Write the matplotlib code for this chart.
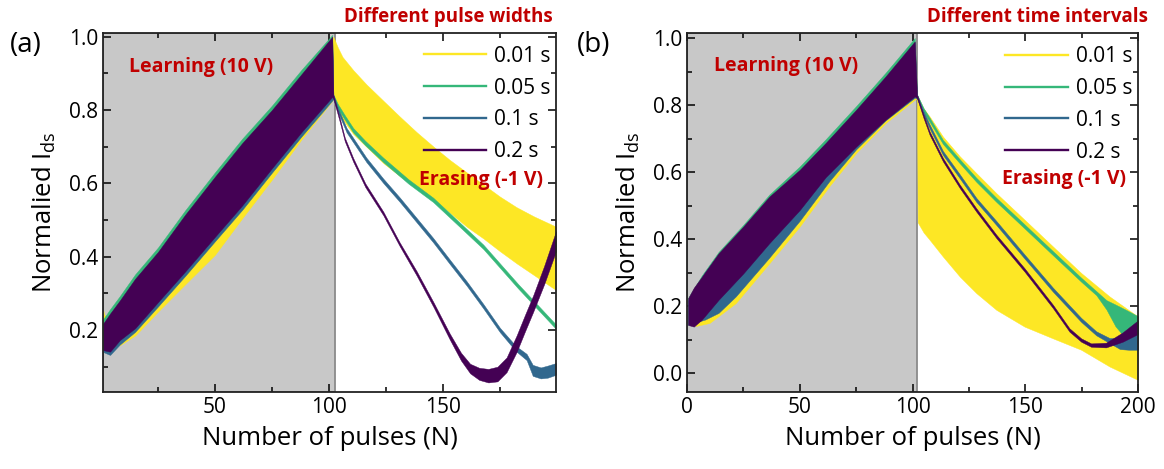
import matplotlib
matplotlib.use("Agg")
import matplotlib.pyplot as plt
from matplotlib.lines import Line2D
from matplotlib.ticker import MultipleLocator

plt.rcParams['font.family'] = ['Open Sans', 'DejaVu Sans']
plt.rcParams['mathtext.fontset'] = 'custom'
plt.rcParams['mathtext.rm'] = 'Open Sans'

# series names and colours (viridis-like)
LABELS = ['0.01 s', '0.05 s', '0.1 s', '0.2 s']
COLORS = ['#fde725', '#35b779', '#31688e', '#440154']
RED = '#c00000'

# ---- panel (a): different pulse widths, upper / lower envelope of the pulse trace
A_X_001 = [1, 1.5, 4, 8.2, 15, 25, 37, 50, 62, 75, 88, 101.5,
           102, 104, 106, 110.7, 116.5, 124, 131.2, 138.5, 146, 153.1, 160.5, 167.8, 175.1, 182.4, 190, 199.7]
A_HI_001 = [0.255, 0.24, 0.24, 0.275, 0.335, 0.405, 0.51, 0.61, 0.70, 0.79, 0.89, 0.99,
            1.0, 0.97, 0.945, 0.909, 0.87, 0.825, 0.782, 0.74, 0.70, 0.664, 0.63, 0.597, 0.564, 0.535, 0.51, 0.482]
A_LO_001 = [0.20, 0.19, 0.175, 0.158, 0.185, 0.25, 0.325, 0.405, 0.505, 0.61, 0.72, 0.825,
            0.836, 0.80, 0.775, 0.735, 0.70, 0.655, 0.62, 0.591, 0.555, 0.52, 0.482, 0.45, 0.415, 0.382, 0.35, 0.309]

A_X_005 = [1, 4, 8.2, 15, 25, 37, 50, 62, 75, 88, 101.5,
           102, 104, 107, 110.7, 116, 123.9, 135, 145.8, 157, 167.8, 183, 199.7]
A_HI_005 = [0.23, 0.257, 0.292, 0.352, 0.425, 0.527, 0.63, 0.722, 0.812, 0.91, 1.005,
            0.842, 0.816, 0.786, 0.751, 0.716, 0.670, 0.611, 0.561, 0.496, 0.433, 0.326, 0.215]
A_LO_005 = [0.15, 0.145, 0.172, 0.21, 0.276, 0.36, 0.454, 0.54, 0.641, 0.74, 0.836,
            0.830, 0.804, 0.774, 0.739, 0.704, 0.658, 0.599, 0.549, 0.484, 0.421, 0.314, 0.203]

A_X_01 = [1, 4, 8.2, 15, 25, 37, 50, 62, 75, 88, 101.5,
          102, 104, 107.8, 116.5, 123.9, 131.2, 138.5, 145.8, 153.1, 160.5, 167.8, 175.1, 182, 186.8, 189.5, 193, 196, 199.7]
A_HI_01 = [0.215, 0.242, 0.277, 0.337, 0.41, 0.512, 0.615, 0.707, 0.797, 0.895, 0.997,
           0.842, 0.806, 0.751, 0.670, 0.613, 0.561, 0.506, 0.451, 0.392, 0.333, 0.271, 0.206, 0.157, 0.135, 0.105, 0.098, 0.103, 0.11]
A_LO_01 = [0.14, 0.132, 0.16, 0.195, 0.264, 0.348, 0.442, 0.528, 0.629, 0.728, 0.826,
           0.830, 0.794, 0.739, 0.658, 0.601, 0.549, 0.494, 0.439, 0.380, 0.321, 0.259, 0.194, 0.143, 0.118, 0.075, 0.068, 0.07, 0.078]

A_X_02 = [1, 4, 8.2, 15, 25, 37, 50, 62, 75, 88, 101.5,
          102, 104.8, 107, 110.7, 116, 123.9, 131, 138.5, 146, 153.1, 158, 162, 166, 170, 174, 178, 182.4, 186, 189.7, 194.5, 199.7]
A_HI_02 = [0.218, 0.245, 0.28, 0.34, 0.413, 0.515, 0.618, 0.71, 0.80, 0.898, 1.0,
           0.841, 0.778, 0.725, 0.669, 0.600, 0.523, 0.440, 0.361, 0.275, 0.190, 0.138, 0.108, 0.097, 0.094, 0.10, 0.125, 0.185, 0.24, 0.295, 0.375, 0.47]
A_LO_02 = [0.145, 0.141, 0.172, 0.205, 0.276, 0.36, 0.454, 0.54, 0.641, 0.74, 0.836,
           0.831, 0.768, 0.715, 0.659, 0.590, 0.513, 0.430, 0.349, 0.262, 0.174, 0.117, 0.082, 0.064, 0.057, 0.06, 0.085, 0.14, 0.195, 0.25, 0.325, 0.415]

# ---- panel (b): different time intervals
B_X_001 = [0.5, 4, 10, 21.6, 36.5, 50, 63, 75, 88, 101,
           102, 102.3, 104.9, 107.6, 113.5, 121, 128.3, 137.2, 149.7, 162.3, 174.8, 187.4, 200]
B_HI_001 = [0.2, 0.25, 0.31, 0.405, 0.52, 0.60, 0.69, 0.78, 0.875, 0.98,
            0.83, 0.826, 0.79, 0.766, 0.706, 0.647, 0.597, 0.537, 0.458, 0.378, 0.299, 0.229, 0.169]
B_LO_001 = [0.15, 0.141, 0.15, 0.209, 0.328, 0.438, 0.557, 0.657, 0.746, 0.816,
            0.82, 0.45, 0.42, 0.398, 0.348, 0.288, 0.239, 0.189, 0.139, 0.104, 0.07, 0.02, -0.02]

B_X_005 = [0.5, 6.6, 14, 25, 36.5, 50, 61.5, 75, 88, 101,
           102, 104.9, 107.6, 113.5, 121, 128.3, 137.2, 149.7, 162.3, 174.8, 181.5, 186, 190, 195, 200]
B_HI_005 = [0.225, 0.292, 0.362, 0.443, 0.533, 0.617, 0.698, 0.797, 0.896, 1.0,
            0.832, 0.791, 0.762, 0.696, 0.638, 0.583, 0.523, 0.444, 0.364, 0.285, 0.245, 0.218, 0.205, 0.188, 0.17]
B_LO_005 = [0.144, 0.16, 0.219, 0.298, 0.388, 0.487, 0.585, 0.676, 0.756, 0.826,
            0.820, 0.779, 0.750, 0.684, 0.626, 0.571, 0.511, 0.432, 0.352, 0.273, 0.233, 0.19, 0.14, 0.10, 0.07]

B_X_01 = [0.5, 8, 14, 21.6, 36.5, 50, 63, 75, 88, 101,
          102, 104.9, 107.6, 113.5, 121, 128.3, 137.2, 149.7, 162.3, 174.8, 181.5, 187.4, 192, 196, 200]
B_HI_01 = [0.217, 0.302, 0.355, 0.412, 0.524, 0.604, 0.697, 0.783, 0.882, 0.987,
           0.832, 0.781, 0.742, 0.663, 0.593, 0.523, 0.454, 0.354, 0.255, 0.165, 0.125, 0.105, 0.105, 0.115, 0.12]
B_LO_01 = [0.145, 0.16, 0.18, 0.229, 0.345, 0.455, 0.572, 0.668, 0.754, 0.822,
           0.820, 0.769, 0.730, 0.651, 0.581, 0.511, 0.442, 0.342, 0.243, 0.153, 0.113, 0.09, 0.072, 0.07, 0.07]

B_X_02 = [0.5, 3, 6.6, 14, 25, 36.5, 50, 61.5, 75, 88, 101,
          102, 104.9, 107.6, 113.5, 121, 128.3, 137.2, 149.7, 162.3, 169.6, 174.8, 179.2, 185.8, 193.2, 200]
B_HI_02 = [0.224, 0.255, 0.288, 0.358, 0.438, 0.527, 0.607, 0.687, 0.786, 0.885, 0.99,
           0.831, 0.771, 0.721, 0.642, 0.562, 0.492, 0.413, 0.313, 0.204, 0.134, 0.104, 0.089, 0.091, 0.122, 0.158]
B_LO_02 = [0.144, 0.139, 0.16, 0.219, 0.298, 0.388, 0.487, 0.585, 0.676, 0.756, 0.826,
           0.821, 0.761, 0.711, 0.632, 0.552, 0.482, 0.403, 0.303, 0.194, 0.124, 0.094, 0.079, 0.077, 0.094, 0.117]


def draw_panel(ax, bands, xlim, ylim, learn_end, title, title_x, erase_xy, learn_xy):
    # grey "learning" region
    ax.axvspan(xlim[0], learn_end, facecolor='#c8c8c8', edgecolor='#8a8a8a', lw=1.3, zorder=0)
    for (x, hi, lo), c in zip(bands, COLORS):
        ax.fill_between(x, lo, hi, color=c, lw=0.3, edgecolor=c, zorder=2)
    ax.set_xlim(*xlim)
    ax.set_ylim(*ylim)
    ax.xaxis.set_major_locator(MultipleLocator(50))
    ax.xaxis.set_minor_locator(MultipleLocator(25))
    ax.yaxis.set_major_locator(MultipleLocator(0.2))
    ax.yaxis.set_minor_locator(MultipleLocator(0.1))
    ax.tick_params(which='both', direction='in', top=True, right=True, labelsize=15, width=1.1)
    ax.tick_params(which='major', length=6)
    ax.tick_params(which='minor', length=3.5)
    for s in ax.spines.values():
        s.set_linewidth(1.3)
        s.set_color('#222222')
    ax.set_xlabel('Number of pulses (N)', fontsize=18.5, labelpad=6)
    ax.set_ylabel('Normalied I$_{\\mathrm{ds}}$', fontsize=18.5, labelpad=8)

    handles = [Line2D([], [], color=c, lw=1.7) for c in COLORS]
    ax.legend(handles, LABELS, loc='upper right', frameon=False, fontsize=15,
              handlelength=3.0, handletextpad=0.4, labelspacing=0.52,
              bbox_to_anchor=(1.03, 1.016))

    ax.text(title_x, 1.03, title, transform=ax.transAxes, ha='right', va='baseline',
            color=RED, fontsize=13.5, fontweight='bold')
    ax.text(learn_xy[0], learn_xy[1], 'Learning (10 V)', ha='center', va='center',
            color=RED, fontsize=14, fontweight='bold', zorder=5)
    ax.text(erase_xy[0], erase_xy[1], 'Erasing (-1 V)', ha='right', va='center',
            color=RED, fontsize=14, fontweight='bold', zorder=5)


def main():
    fig = plt.figure(figsize=(11.64, 4.69), dpi=100)
    ax_a = fig.add_axes([103 / 1164, 1 - 392 / 469, 453 / 1164, 359.3 / 469])
    ax_b = fig.add_axes([687 / 1164, 1 - 392 / 469, 451 / 1164, 359 / 469])

    bands_a = [(A_X_001, A_HI_001, A_LO_001), (A_X_005, A_HI_005, A_LO_005),
               (A_X_01, A_HI_01, A_LO_01), (A_X_02, A_HI_02, A_LO_02)]
    bands_b = [(B_X_001, B_HI_001, B_LO_001), (B_X_005, B_HI_005, B_LO_005),
               (B_X_01, B_HI_01, B_LO_01), (B_X_02, B_HI_02, B_LO_02)]

    draw_panel(ax_a, bands_a, (0.9, 199.7), (0.031, 1.011), 102.8,
               'Different pulse widths', 0.993, (194, 0.609), (43.8, 0.917))
    draw_panel(ax_b, bands_b, (0, 200), (-0.056, 1.015), 102.2,
               'Different time intervals', 1.022, (194.9, 0.579), (43.8, 0.918))

    fig.text(10 / 1164, 1 - 45 / 469, '(a)', fontsize=20, va='center', ha='left')
    fig.text(577 / 1164, 1 - 45 / 469, '(b)', fontsize=20, va='center', ha='left')

    fig.savefig('out.png', dpi=100)


if __name__ == "__main__":
    main()
